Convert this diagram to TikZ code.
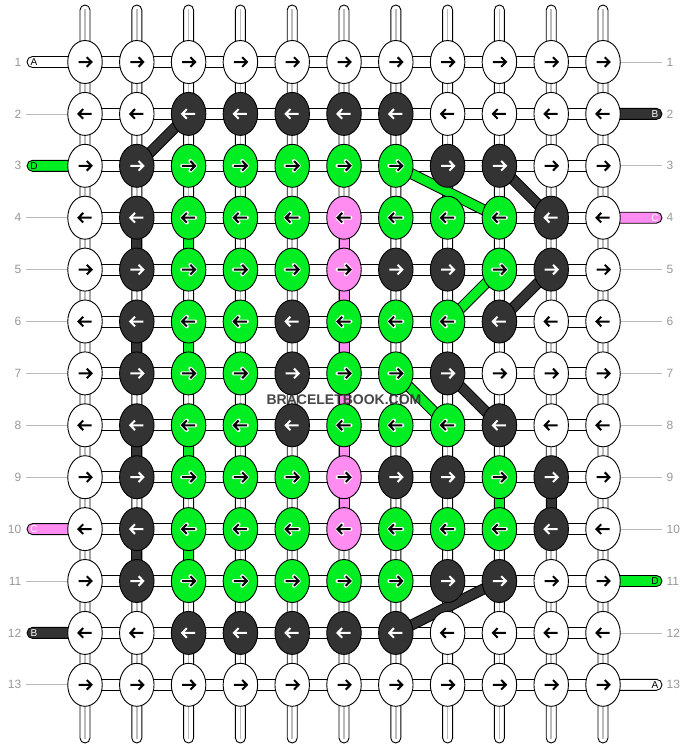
\documentclass[tikz,border=0pt]{standalone}
\usepackage{fontspec}
\setmainfont{Liberation Sans}
\usetikzlibrary{shapes.geometric}
\definecolor{kW}{HTML}{FFFFFF}
\definecolor{kD}{HTML}{333333}
\definecolor{kG}{HTML}{00EE22}
\definecolor{kP}{HTML}{FF8CF0}
\definecolor{haloW}{HTML}{FFFFFF}
\definecolor{haloD}{HTML}{333333}
\definecolor{haloG}{HTML}{FFFFFF}
\definecolor{haloP}{HTML}{FFFFFF}
\definecolor{coreW}{HTML}{000000}
\definecolor{coreD}{HTML}{FFFFFF}
\definecolor{coreG}{HTML}{000000}
\definecolor{coreP}{HTML}{000000}
\definecolor{gl}{HTML}{BBBBBB}
\definecolor{numc}{HTML}{999999}
\begin{document}
\begin{tikzpicture}[x=1pt,y=-1pt,
  knot/.style={ellipse, draw=black, line width=0.9pt, minimum width=34.5pt, minimum height=43pt, inner sep=0pt},
  bar/.style={draw=black, line width=0.9pt, fill=white},
  band/.style={line width=#1, line cap=butt},
  rownum/.style={text=numc, font=\fontsize{12}{12}\selectfont, inner sep=0pt},
  lbl/.style={font=\fontsize{10}{10}\selectfont, inner sep=0pt},
  guide/.style={draw=gl, line width=0.8pt}]
\fill[white] (0,0) rectangle (688,748);
\useasboundingbox (0,0) rectangle (688,748);
% coordinates
\foreach \r in {1,...,13}{
  \foreach \c in {1,...,11}{
    \pgfmathsetmacro\x{85+(\c-1)*51.8}
    \pgfmathsetmacro\y{62+(\r-1)*51.9}
    \coordinate (p\r-\c) at (\x,\y);
  }
}
% vertical strings
\foreach \c in {1,...,11}{
  \pgfmathsetmacro\x{85+(\c-1)*51.8}
  \draw[bar, rounded corners=5pt] ({\x-5},5) rectangle ({\x+5},743);
  \draw[gl, line width=1.5pt] (\x,9) -- (\x,739);
}
% side strings and guides
\foreach \r in {1,...,13}{
  \pgfmathsetmacro\y{62+(\r-1)*51.9}
  \node[rownum, anchor=east] (nl\r) at (21.5,\y) {\r};
  \node[rownum, anchor=west] (nr\r) at (666.5,\y) {\r};
}
\foreach \r in {2,4,5,6,7,8,9,11,13}{
  \draw[guide] (nl\r.east) ++(4.5,0) coordinate (gl\r) -- (p\r-1);
}
\foreach \r in {1,3,5,6,7,8,9,10,12}{
  \draw[guide] (p\r-11) -- ([xshift=-4.5pt]nr\r.west) coordinate (gr\r);
}
% left labelled strings
\foreach \r/\col/\t/\tc in {1/kW/A/black, 3/kG/D/black, 10/kP/C/white, 12/kD/B/white}{
  \pgfmathsetmacro\y{62+(\r-1)*51.9}
  \draw[bar, fill=\col, rounded corners=5.5pt] (27,{\y-5.5}) rectangle (80,{\y+5.5});
  \node[lbl, text=\tc] (ll\r) at (34,\y) {\t};
}
% right labelled strings
\foreach \r/\col/\t/\tc in {2/kD/B/white, 4/kP/C/white, 11/kG/D/black, 13/kW/A/black}{
  \pgfmathsetmacro\y{62+(\r-1)*51.9}
  \draw[bar, fill=\col, rounded corners=5.5pt] (590,{\y-5.5}) rectangle (662,{\y+5.5});
  \node[lbl, text=\tc] (lr\r) at (655,\y) {\t};
}
% horizontal strings
\foreach \r in {1,...,13}{
  \pgfmathsetmacro\y{62+(\r-1)*51.9}
  \draw[bar] (85,{\y-5.5}) rectangle (603,{\y+5.5});
}
% coloured vertical segments
\foreach \c/\r/\col in {2/4/kD,2/6/kD,2/8/kD,2/10/kD,3/4/kG,3/6/kG,3/8/kG,3/10/kG,6/4/kP,6/5/kP,6/6/kP,6/7/kP,6/8/kP,6/9/kP,9/9/kG,10/9/kD}{
  \pgfmathsetmacro\x{85+(\c-1)*51.8}
  \pgfmathsetmacro\ya{62+(\r-1)*51.9}
  \pgfmathsetmacro\yb{62+\r*51.9}
  \draw[bar, fill=\col] ({\x-5},\ya) rectangle ({\x+5},\yb);
}
% diagonal jumps
\foreach \ra/\ca/\rb/\cb/\col in {2/3/3/2/kD, 3/7/4/9/kG, 3/9/4/10/kD, 5/10/6/9/kD, 5/9/6/8/kG, 7/7/8/8/kG, 7/8/8/9/kD, 11/9/12/7/kD}{
  \draw[band=11pt, black] (p\ra-\ca) -- (p\rb-\cb);
  \draw[band=9pt, \col] (p\ra-\ca) -- (p\rb-\cb);
}
% knots
\foreach \r/\row in {
  1/{W,W,W,W,W,W,W,W,W,W,W},
  2/{W,W,D,D,D,D,D,W,W,W,W},
  3/{W,D,G,G,G,G,G,D,D,W,W},
  4/{W,D,G,G,G,P,G,G,G,D,W},
  5/{W,D,G,G,G,P,D,D,G,D,W},
  6/{W,D,G,G,D,G,G,G,D,W,W},
  7/{W,D,G,G,D,G,G,D,W,W,W},
  8/{W,D,G,G,D,G,G,G,D,W,W},
  9/{W,D,G,G,G,P,D,D,G,D,W},
  10/{W,D,G,G,G,P,G,G,G,D,W},
  11/{W,D,G,G,G,G,G,D,D,W,W},
  12/{W,W,D,D,D,D,D,W,W,W,W},
  13/{W,W,W,W,W,W,W,W,W,W,W}}{
  \foreach \k [count=\c] in \row {
    \pgfmathsetmacro\x{85+(\c-1)*51.8}
    \pgfmathsetmacro\y{62+(\r-1)*51.9}
    \pgfmathsetmacro\d{ifthenelse(mod(\r,2)==1,1,-1)}
    \node[knot, fill=k\k] (k\r-\c) at (\x,\y) {};
    \draw[halo\k, line width=4pt, line cap=round, line join=round]
      ({\x-6.5*\d},\y) -- ({\x+6.5*\d},\y)
      ({\x+1.8*\d},{\y-4.8}) -- ({\x+6.5*\d},\y) -- ({\x+1.8*\d},{\y+4.8});
    \draw[core\k, line width=2pt, line join=miter]
      ({\x-6.5*\d},\y) -- ({\x+6.3*\d},\y)
      ({\x+1.8*\d},{\y-4.8}) -- ({\x+6.5*\d},\y) -- ({\x+1.8*\d},{\y+4.8});
  }
}
% watermark
\node[font=\bfseries\fontsize{14}{14}\selectfont, text=kD, opacity=0.9, inner sep=0pt] (wm) at (344,399.5) {BRACELETBOOK.COM};
\end{tikzpicture}
\end{document}
